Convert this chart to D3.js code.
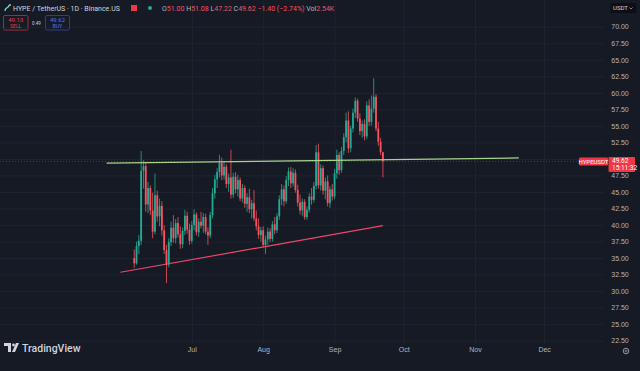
<!DOCTYPE html>
<html>
<head>
<meta charset="utf-8">
<script src="https://cdn.jsdelivr.net/npm/d3@7"></script>
<style>
  html, body { margin: 0; padding: 0; background: #161a25; overflow: hidden; }
  svg { display: block; font-family: Roboto, "Noto Sans", sans-serif; }
  .tick line { stroke: #1f2330; }
  .domain { display: none; }
</style>
</head>
<body>
<script>
const width = 640,
      height = 371;

// daily candles, Jun 6 .. Sep 22
const dates = d3.timeDay.range(new Date(2025, 5, 6), new Date(2025, 8, 23));
const opens = [
  35.0, 34.2, 36.8, 37.6, 48.2, 48.9, 43.1, 45.6, 42.2, 39.0,
  44.5, 41.3, 42.9, 39.2, 36.2, 34.0, 37.4, 39.6, 38.0, 40.3,
  38.6, 37.1, 39.1, 41.4, 39.3, 37.6, 40.0, 41.6, 38.9, 40.5,
  39.9, 41.2, 39.0, 38.4, 41.5, 44.8, 46.9, 48.0, 49.4, 47.5,
  48.8, 46.2, 47.2, 44.6, 47.3, 45.4, 46.8, 44.0, 45.6, 43.2,
  44.2, 42.4, 43.3, 41.0, 39.8, 38.5, 39.2, 37.0, 37.8, 39.0,
  37.9, 40.1, 39.2, 41.3, 43.9, 45.4, 43.6, 46.8, 48.1, 46.3,
  47.9, 45.3, 43.4, 42.2, 43.5, 41.2, 42.3, 44.3, 43.8, 45.9,
  51.0, 46.0, 48.6, 45.2, 46.6, 43.3, 45.4, 44.3, 47.8, 50.6,
  48.3, 51.2, 53.3, 55.8, 51.6, 54.6, 57.0, 58.8, 56.1, 54.2,
  55.3, 53.4, 58.1, 55.6, 57.6, 59.4, 54.6, 52.6, 51.00
];
const highs = [
  36.3, 37.5, 38.5, 51.2, 49.8, 49.4, 46.5, 46.0, 44.9, 47.8,
  45.2, 44.0, 43.6, 40.0, 37.0, 38.0, 40.5, 41.5, 40.9, 41.2,
  39.8, 39.6, 42.3, 42.0, 40.2, 40.6, 42.4, 41.9, 41.0, 42.0,
  41.8, 41.7, 39.6, 42.0, 45.6, 47.6, 48.6, 50.6, 50.2, 49.6,
  49.2, 47.8, 51.4, 47.9, 48.0, 47.6, 47.2, 46.2, 46.0, 44.8,
  45.5, 43.8, 45.3, 42.2, 41.0, 39.7, 39.8, 38.4, 39.6, 39.5,
  40.6, 41.2, 41.8, 44.5, 46.2, 46.0, 47.4, 48.7, 48.8, 48.6,
  48.4, 46.1, 44.6, 44.0, 43.9, 42.8, 44.8, 45.6, 46.5, 52.1,
  52.3, 49.2, 49.0, 47.2, 47.5, 45.9, 46.2, 48.5, 51.4, 51.0,
  51.8, 53.9, 57.0, 57.2, 55.0, 57.6, 59.3, 59.1, 56.9, 55.8,
  56.0, 58.7, 59.0, 59.6, 62.2, 59.8, 55.6, 53.2, 51.08
];
const lows = [
  33.5, 34.0, 35.6, 37.0, 45.5, 42.0, 41.8, 41.5, 38.0, 38.6,
  40.5, 39.8, 38.4, 35.6, 31.2, 33.6, 36.8, 37.3, 37.2, 38.1,
  36.4, 36.5, 38.5, 38.7, 37.0, 37.2, 39.2, 38.4, 38.2, 39.5,
  38.8, 38.6, 37.0, 38.0, 41.0, 44.0, 45.6, 47.2, 46.8, 46.9,
  45.6, 45.0, 44.0, 44.1, 44.8, 44.3, 43.6, 43.4, 42.6, 42.0,
  41.8, 41.0, 40.6, 39.2, 37.9, 37.5, 36.6, 35.6, 37.0, 37.4,
  37.5, 38.6, 38.8, 40.8, 43.0, 42.8, 43.2, 45.9, 45.6, 45.8,
  44.9, 42.8, 41.6, 41.4, 40.8, 40.8, 41.9, 43.1, 43.4, 45.4,
  45.5, 45.2, 44.6, 43.9, 42.8, 42.6, 43.7, 43.9, 47.0, 47.6,
  47.9, 50.6, 52.5, 50.9, 51.0, 54.0, 56.2, 55.6, 53.6, 53.2,
  52.8, 53.0, 55.0, 55.0, 57.0, 54.2, 52.0, 50.6, 47.22
];
const closes = [
  34.2, 36.8, 37.6, 48.2, 48.9, 43.1, 45.6, 42.2, 39.0, 44.5,
  41.3, 42.9, 39.2, 36.2, 34.0, 37.4, 39.6, 38.0, 40.3, 38.6,
  37.1, 39.1, 41.4, 39.3, 37.6, 40.0, 41.6, 38.9, 40.5, 39.9,
  41.2, 39.0, 38.4, 41.5, 44.8, 46.9, 48.0, 49.4, 47.5, 48.8,
  46.2, 47.2, 44.6, 47.3, 45.4, 46.8, 44.0, 45.6, 43.2, 44.2,
  42.4, 43.3, 41.0, 39.8, 38.5, 39.2, 37.0, 37.8, 39.0, 37.9,
  40.1, 39.2, 41.3, 43.9, 45.4, 43.6, 46.8, 48.1, 46.3, 47.9,
  45.3, 43.4, 42.2, 43.5, 41.2, 42.3, 44.3, 43.8, 45.9, 51.0,
  46.0, 48.6, 45.2, 46.6, 43.3, 45.4, 44.3, 47.8, 50.6, 48.3,
  51.2, 53.3, 55.8, 51.6, 54.6, 57.0, 58.8, 56.1, 54.2, 55.3,
  53.4, 58.1, 55.6, 57.6, 59.4, 54.6, 52.6, 51.02, 49.62
];

const priceTicks = [22.5, 25, 27.5, 30, 32.5, 35, 37.5, 40, 42.5, 45, 47.5, 50,
                    52.5, 55, 57.5, 60, 62.5, 65, 67.5, 70];
const monthTicks = [new Date(2025, 6, 1), new Date(2025, 7, 1), new Date(2025, 8, 1),
                    new Date(2025, 9, 1), new Date(2025, 10, 1), new Date(2025, 11, 1)];
const monthLabels = ['Jul', 'Aug', 'Sep', 'Oct', 'Nov', 'Dec'];

// drawn trend lines [date, price]
const greenLine = [[new Date(2025, 4, 25), 49.35], [new Date(2025, 10, 20), 50.15]];
const redLine = [[new Date(2025, 4, 31), 32.85], [new Date(2025, 8, 22), 39.9]];

const lastPrice = 49.62;
const header = {sym: 'HYPE / TetherUS · 1D · Binance.US', o: '51.00', h: '51.08', l: '47.22', c: '49.62',
                chg: '−1.40 (−2.74%)', vol: '2.54K'};

const up = '#22ab94', down = '#f7525f';
const plotRight = 604;

const x = d3.scaleTime()
    .domain([monthTicks[0], monthTicks[5]])
    .range([191.8, 544.1]);
const y = d3.scaleLinear()
    .domain([22.5, 70])
    .range([340.7, 26.7]);

const svg = d3.select('body').append('svg')
    .attr('width', width)
    .attr('height', height);

svg.append('rect').attr('width', width).attr('height', height).attr('fill', '#161a25');

// grid
svg.append('g')
    .attr('transform', `translate(${plotRight},0)`)
    .call(d3.axisLeft(y).tickValues(priceTicks).tickSize(plotRight).tickFormat(''));
svg.append('g')
    .call(d3.axisBottom(x).tickValues(monthTicks).tickSize(344).tickFormat(''));

// price axis labels (the one under the last-price tag is hidden, as in the terminal)
const yAxis = svg.append('g')
    .attr('transform', 'translate(620,0)')
    .call(d3.axisRight(y)
      .tickValues(priceTicks.filter((p) => Math.abs(y(p) - y(lastPrice)) > 9))
      .tickSize(0).tickPadding(0).tickFormat(d3.format('.2f')));
yAxis.selectAll('text')
    .attr('text-anchor', 'middle')
    .attr('fill', '#b2b5be')
    .style('font-size', '7px');

// date axis labels
const xAxis = svg.append('g')
    .attr('transform', 'translate(0,347)')
    .call(d3.axisBottom(x).tickValues(monthTicks).tickSize(0).tickPadding(0)
      .tickFormat((d, i) => monthLabels[i]));
xAxis.selectAll('text')
    .attr('fill', '#b2b5be')
    .style('font-size', '7px');

// current price line
svg.append('line')
    .attr('x1', 0).attr('x2', 580)
    .attr('y1', y(lastPrice)).attr('y2', y(lastPrice))
    .attr('stroke', '#f23645')
    .attr('stroke-opacity', 0.6)
    .attr('stroke-width', 0.8)
    .attr('stroke-dasharray', '1,2');

// candles
const candles = svg.append('g').selectAll('g')
    .data(dates)
    .enter()
    .append('g')
    .attr('transform', (d) => `translate(${x(d)},0)`);

candles.append('line')
    .attr('y1', (d, i) => y(highs[i]))
    .attr('y2', (d, i) => y(lows[i]))
    .attr('stroke', (d, i) => closes[i] >= opens[i] ? up : down)
    .attr('stroke-width', 0.8);

candles.append('rect')
    .attr('x', -0.9)
    .attr('width', 1.8)
    .attr('y', (d, i) => y(Math.max(opens[i], closes[i])))
    .attr('height', (d, i) => Math.max(0.8, Math.abs(y(opens[i]) - y(closes[i]))))
    .attr('fill', (d, i) => closes[i] >= opens[i] ? up : down);

// trend lines
const trend = d3.line()
    .x((d) => x(d[0]))
    .y((d) => y(d[1]));

svg.append('path')
    .datum(greenLine)
    .attr('d', trend)
    .attr('stroke', '#a5d48a')
    .attr('stroke-width', 1.2)
    .attr('fill', 'none');

svg.append('path')
    .datum(redLine)
    .attr('d', trend)
    .attr('stroke', '#f0466a')
    .attr('stroke-width', 1.2)
    .attr('fill', 'none');

// last price labels
const ly = y(lastPrice);
svg.append('rect')
    .attr('x', 579).attr('y', ly - 3.8).attr('width', 29).attr('height', 8).attr('rx', 1)
    .attr('fill', '#f23645');
svg.append('text')
    .attr('x', 593.5).attr('y', ly + 2.3)
    .attr('text-anchor', 'middle')
    .attr('fill', '#fff')
    .style('font-size', '6px')
    .text('HYPEUSDT');
svg.append('rect')
    .attr('x', 608.5).attr('y', ly - 4.5).attr('width', 26.5).attr('height', 15).attr('rx', 1)
    .attr('fill', '#f23645');
svg.append('text')
    .attr('x', 612).attr('y', ly + 1.8)
    .attr('fill', '#fff')
    .style('font-size', '6.5px')
    .text(d3.format('.2f')(lastPrice));
svg.append('text')
    .attr('x', 612).attr('y', ly + 8.3)
    .attr('fill', '#fff')
    .style('font-size', '6.5px')
    .text('15:11:32');

// header
const head = svg.append('g').style('font-size', '7px');
head.append('path')
    .attr('d', 'M5,11 C5,6 9,9 9,5 M9,5 L11,5')
    .attr('stroke', '#7fd6c2').attr('stroke-width', 1.3).attr('fill', 'none');
head.append('text').attr('x', 13).attr('y', 10.5).attr('fill', '#d1d4dc').text(header.sym);
head.append('rect').attr('x', 131).attr('y', 5).attr('width', 6).attr('height', 6).attr('fill', '#f23645');
head.append('circle').attr('cx', 150).attr('cy', 8).attr('r', 2).attr('fill', '#22ab94');
const ohlc = head.append('text').attr('x', 162).attr('y', 10.5).attr('fill', down);
[['O', header.o], [' H', header.h], [' L', header.l], [' C', header.c], [' ' + header.chg, ''], [' Vol', header.vol]]
  .forEach(([k, v]) => {
    if (v === '') {
      ohlc.append('tspan').text(k);
    } else {
      ohlc.append('tspan').attr('fill', '#b2b5be').text(k);
      ohlc.append('tspan').text(v);
    }
  });

// sell / buy boxes
svg.append('rect').attr('x', 3.5).attr('y', 15.5).attr('width', 24.5).attr('height', 14.5).attr('rx', 1.5)
    .attr('fill', 'none').attr('stroke', '#9b2c3a');
svg.append('text').attr('x', 15.7).attr('y', 21.5).attr('text-anchor', 'middle')
    .attr('fill', '#f23645').style('font-size', '6px').text('49.13');
svg.append('text').attr('x', 15.7).attr('y', 28).attr('text-anchor', 'middle')
    .attr('fill', '#f23645').style('font-size', '5px').text('SELL');
svg.append('text').attr('x', 36.5).attr('y', 24.5).attr('text-anchor', 'middle')
    .attr('fill', '#d1d4dc').style('font-size', '4.5px').text('0.49');
svg.append('rect').attr('x', 45.5).attr('y', 15.5).attr('width', 24).attr('height', 14.5).attr('rx', 1.5)
    .attr('fill', 'none').attr('stroke', '#2a3f8f');
svg.append('text').attr('x', 57.5).attr('y', 21.5).attr('text-anchor', 'middle')
    .attr('fill', '#4a78ff').style('font-size', '6px').text('49.62');
svg.append('text').attr('x', 57.5).attr('y', 28).attr('text-anchor', 'middle')
    .attr('fill', '#4a78ff').style('font-size', '5px').text('BUY');

// currency button
svg.append('rect').attr('x', 610.5).attr('y', 3).attr('width', 26).attr('height', 10).attr('rx', 1.5)
    .attr('fill', '#0d0f16');
svg.append('text').attr('x', 613).attr('y', 10.3).attr('fill', '#d1d4dc').style('font-size', '6px').text('USDT');
svg.append('path').attr('d', 'M629.5,7.5 L631,9 L632.5,7.5').attr('stroke', '#b2b5be').attr('stroke-width', 0.7).attr('fill', 'none');

// watermark
svg.append('path')
    .attr('d', 'M4,343 H11 V352 H8 V346 H4 Z M12,352 L16,343 H19 L15,352 Z')
    .attr('fill', '#d1d4dc');
svg.append('circle').attr('cx', 13.5).attr('cy', 345).attr('r', 1.4).attr('fill', '#d1d4dc');
svg.append('text').attr('x', 22).attr('y', 351.5).attr('fill', '#d1d4dc')
    .style('font-size', '10.5px').style('font-weight', 500).text('TradingView');

// settings gear
svg.append('circle').attr('cx', 626).attr('cy', 351).attr('r', 2.8)
    .attr('fill', 'none').attr('stroke', '#b2b5be').attr('stroke-width', 0.8);
svg.append('circle').attr('cx', 626).attr('cy', 351).attr('r', 1)
    .attr('fill', 'none').attr('stroke', '#b2b5be').attr('stroke-width', 0.6);
</script>
</body>
</html>
